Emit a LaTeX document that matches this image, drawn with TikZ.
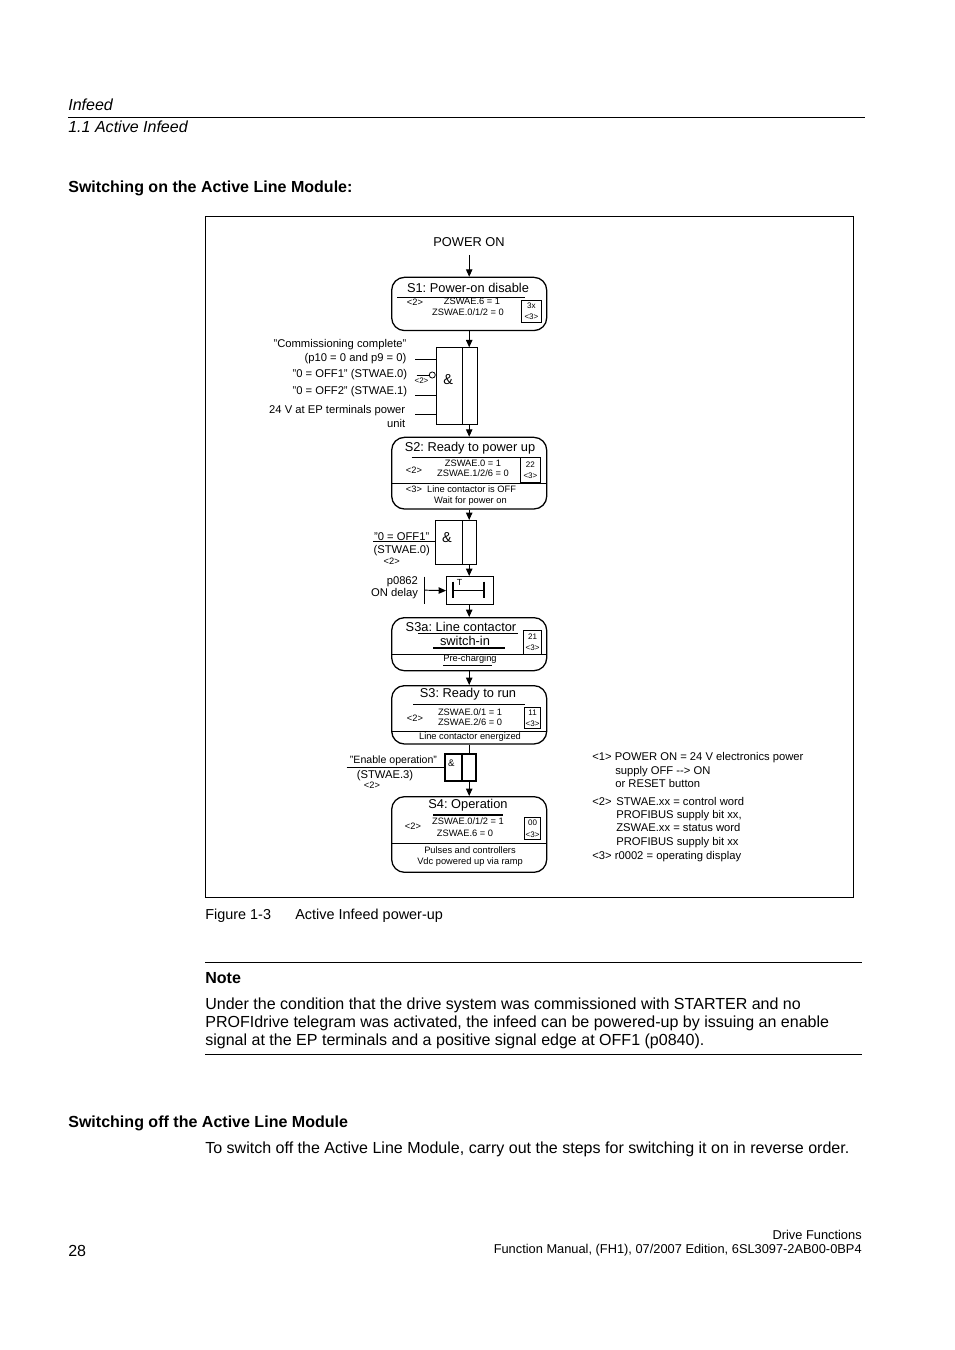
\documentclass[tikz,border=0pt]{standalone}
\usepackage{fontspec}
\setmainfont{Liberation Sans}
\usetikzlibrary{arrows.meta, positioning, calc}
\frenchspacing

\newcommand{\fsz}[2]{\fontsize{#1}{#2}\selectfont}

\begin{document}
\begin{tikzpicture}[x=0.6237pt, y=-0.6237pt, >={Triangle[length=4.6pt, width=4pt]}]

        % --- Styles ---
        \tikzstyle{state} = [rectangle, rounded corners=8pt, draw=black, line width=0.8pt, minimum width=96.7pt, inner sep=0pt, anchor=north]
        \tikzstyle{gate} = [rectangle, draw=black, line width=0.6pt, inner sep=0pt, anchor=north west]
        \tikzstyle{code} = [rectangle, draw=black, line width=0.5pt, inner sep=0pt, anchor=north west, align=center, font=\fsz{5}{7}]
        \tikzstyle{title} = [inner sep=0pt, font=\fsz{8}{9}]
        \tikzstyle{small} = [inner sep=0pt, font=\fsz{5.8}{7}]
        \tikzstyle{lbl} = [inner sep=0pt, yshift=-0.6pt, font=\fsz{7}{8}]
        \tikzstyle{legend} = [inner sep=0pt, anchor=base west, font=\fsz{7}{8}]
        \tikzstyle{body} = [inner sep=0pt, anchor=west, yshift=-1pt, font=\fsz{10}{12}]
        \tikzstyle{heading} = [inner sep=0pt, anchor=west, yshift=-1.2pt, font=\fsz{10}{12}\bfseries]
        \tikzstyle{arrow} = [line width=0.6pt, ->]

        \fill[white] (0,0) rectangle (954,1350);
        \useasboundingbox (0,0) rectangle (954,1350);

        % --- Page head ---
        \node (head) [body, yshift=0.5pt, font=\fsz{10}{12}\itshape] at (68,104) {Infeed};
        \draw[line width=0.5pt] (68,117.2) -- (865,117.2);
        \node (sect) [body, yshift=0.5pt, font=\fsz{10}{12}\itshape] at (68,126) {1.1 Active Infeed};
        \node (hdon) [heading] at (68,186) {Switching on the Active Line Module:};

        % figure frame
        \draw[line width=0.6pt] (205,216.5) rectangle (853.5,897.5);

        % --- S1 ---
        \node (pwr) [title] at (469,242) {POWER ON};
        \coordinate (pin) at (469.2,255);
        \node (s1) [state, minimum height=33.2pt] at (469.2,276.7) {};
        \draw[arrow] (pin) -- (s1.north);
        \node (s1t) [title] at (468,288) {S1: Power-on disable};
        \draw[line width=0.5pt] (397,297) -- (525,297);
        \node (s1a) [small] at (415,302) {<2>};
        \node (s1b) [small] at (472,301.5) {ZSWAE.6 = 1};
        \node (s1c) [small] at (468,312) {ZSWAE.0/1/2 = 0};
        \node (s1r) [code, minimum width=12.5pt, minimum height=13.7pt] at (521,300) {3x\\<3>};

        % --- Gate 1 ---
        \node (and1) [gate, minimum width=25.6pt, minimum height=48pt] at (435.7,347.3) {};
        \draw ($(and1.north west)+(26.6,0)$) -- ($(and1.south west)+(26.6,0)$);
        \node (amp1) [inner sep=0pt, font=\fsz{9}{10}] at (448.3,380) {\&};
        \draw[arrow] (s1.south) -- (s1.south |- and1.north);

        \coordinate (in1) at (415,359);
        \coordinate (in2) at (416.7,375);
        \coordinate (in3) at (415,395);
        \coordinate (in4) at (415,414);
        \node (neg1) [circle, draw, line width=0.5pt, inner sep=0pt, minimum size=3.8pt, anchor=east] at (and1.west |- in2) {};
        \draw (in1) -- (in1 -| and1.west);
        \draw (in2) -- (neg1.west);
        \draw (in3) -- (in3 -| and1.west);
        \draw (in4) -- (in4 -| and1.west);
        \node (neg1l) [inner sep=0pt, font=\fsz{5}{6}] at (421.5,381) {<2>};

        \node (c1) [lbl, anchor=east] at (406.7,344) {"Commissioning complete"};
        \node (c2) [lbl, anchor=east] at (406.7,358) {(p10 = 0 and p9 = 0)};
        \node (c3) [lbl, anchor=east] at (407.5,373.5) {"0 = OFF1" (STWAE.0)};
        \node (c4) [lbl, anchor=east] at (407.5,390.5) {"0 = OFF2" (STWAE.1)};
        \node (c5) [lbl, anchor=east] at (405.5,409.5) {24 V at EP terminals power};
        \node (c6) [lbl, anchor=east] at (405.5,422.5) {unit};

        % --- S2 ---
        \node (s2) [state, minimum height=44.7pt] at (469.2,436.7) {};
        \draw[arrow] (s2.north |- and1.south) -- (s2.north);
        \node (s2t) [title] at (470,448) {S2: Ready to power up};
        \draw[line width=0.5pt] (411.7,457.3) -- (520,457.3);
        \node (s2a) [small] at (414,470) {<2>};
        \node (s2b) [small] at (473,463.3) {ZSWAE.0 = 1};
        \node (s2c) [small] at (473,473.3) {ZSWAE.1/2/6 = 0};
        \node (s2r) [code, minimum width=12.5pt, minimum height=15.4pt] at (520,457.3) {22\\<3>};
        \draw[line width=0.6pt] (391.7,483.3) -- (546.7,483.3);
        \node (s2d) [small] at (461,489.5) {<3>\ \ Line contactor is OFF};
        \node (s2e) [small] at (470.5,501) {Wait for power on};

        % --- Gate 2 ---
        \node (and2) [gate, minimum width=25.4pt, minimum height=27.4pt] at (435,520) {};
        \draw ($(and2.north west)+(27.3,0)$) -- ($(and2.south west)+(27.3,0)$);
        \node (amp2) [inner sep=0pt, font=\fsz{9}{10}] at (447,538) {\&};
        \draw[arrow] (s2.south) -- (s2.south |- and2.north);
        \coordinate (in5) at (373,541.7);
        \draw (in5) -- (in5 -| and2.west);
        \node (off1) [inner sep=0pt, anchor=south, font=\fsz{7}{8}] at (401.7,541) {"0 = OFF1"};
        \node (off1b) [lbl] at (401.7,549.5) {(STWAE.0)};
        \node (off1c) [small] at (391.7,561.5) {<2>};

        % --- ON delay ---
        \node (tdel) [gate, minimum width=29.1pt, minimum height=17.7pt] at (446,576) {};
        \draw[arrow] (s2.south |- and2.south) -- (s2.south |- tdel.north);
        \draw[line width=1.2pt] (453.3,581.7) -- (453.3,598.3);
        \draw[line width=1.2pt] (484.3,581.7) -- (484.3,598.3);
        \draw (453.3,590) -- (484.3,590);
        \node (tT) [inner sep=0pt, font=\fsz{5.5}{6}] at (459.5,582.5) {T};
        \coordinate (dly) at (424.3,590.15);
        \draw (424.3,576.7) -- (424.3,604.3);
        \draw[arrow] (dly) -- (tdel.west);
        \node (p862) [lbl, anchor=east] at (418.3,580.5) {p0862};
        \node (p862b) [lbl, anchor=east] at (418.3,592.5) {ON delay};

        % --- S3a ---
        \node (s3a) [state, minimum height=33.1pt] at (469.2,617) {};
        \draw[arrow] (s2.south |- tdel.south) -- (s3a.north);
        \node (s3at) [title] at (461,626.5) {S3a: Line contactor};
        \draw[line width=0.5pt] (418.3,633.3) -- (518.3,633.3);
        \node (s3au) [title] at (465,641.3) {switch-in};
        \draw[line width=1.1pt] (433.3,648.3) -- (505,648.3);
        \node (s3ar) [code, minimum width=11pt, minimum height=15.2pt] at (523.3,629.5) {21\\<3>};
        \draw[line width=0.6pt] (391.7,654) -- (546.7,654);
        \node (s3ad) [small] at (470,659.5) {Pre-charging};
        \draw[line width=0.5pt] (443.3,665) -- (491.7,665);

        % --- S3 ---
        \node (s3) [state, minimum height=36.4pt] at (469.2,685) {};
        \draw[arrow] (s3a.south) -- (s3.north);
        \node (s3t) [title] at (468,694.5) {S3: Ready to run};
        \draw[line width=0.5pt] (413.3,704) -- (525,704);
        \node (s3a1) [small] at (415,718) {<2>};
        \node (s3b) [small] at (470,712.5) {ZSWAE.0/1 = 1};
        \node (s3c) [small] at (470,722.5) {ZSWAE.2/6 = 0};
        \node (s3r) [code, minimum width=9.8pt, minimum height=13.5pt] at (524.3,706.7) {11\\<3>};
        \draw[line width=0.6pt] (391.7,731.7) -- (546.7,731.7);
        \node (s3d) [small] at (470,737.5) {Line contactor energized};

        % --- Gate 3 ---
        \node (and3) [gate, line width=1.2pt, minimum width=19.1pt, minimum height=16.6pt] at (444.3,753.3) {};
        \draw[line width=1.2pt] ($(and3.north west)+(17.4,0)$) -- ($(and3.south west)+(17.4,0)$);
        \draw[line width=0.6pt] (s3.south) -- (s3.south |- and3.north);
        \node (amp3) [inner sep=0pt, font=\fsz{6}{7}] at (451.3,763) {\&};
        \coordinate (in6) at (346.7,767.3);
        \draw (in6) -- (in6 -| and3.west);
        \node (en1) [inner sep=0pt, anchor=south, font=\fsz{6.6}{8}] at (393.5,766.3) {"Enable operation"};
        \node (en2) [lbl] at (385,774.5) {(STWAE.3)};
        \node (en3) [small] at (372,785) {<2>};

        % --- S4 ---
        \node (s4) [state, minimum height=47.2pt] at (469.2,796) {};
        \draw[arrow] (s3.south |- and3.south) -- (s4.north);
        \node (s4t) [title] at (468,805.5) {S4: Operation};
        \draw[line width=1.2pt] (433.3,815) -- (503.3,815);
        \node (s4a) [small] at (413,826) {<2>};
        \node (s4b) [small] at (468,821.5) {ZSWAE.0/1/2 = 1};
        \node (s4c) [small] at (465,833) {ZSWAE.6 = 0};
        \node (s4r) [code, minimum width=9.8pt, minimum height=13.7pt] at (524.3,817.3) {00\\<3>};
        \draw[line width=0.6pt] (391.7,843.3) -- (546.7,843.3);
        \node (s4d) [small] at (470,850.5) {Pulses and controllers};
        \node (s4e) [small] at (470,862) {Vdc powered up via ramp};

        % --- Legend ---
        \node (lg1) [legend] at (592,760.5) {<1> POWER ON = 24 V electronics power};
        \node (lg2) [legend] at (615,774) {supply OFF -{}-{}> ON};
        \node (lg3) [legend] at (615,787.5) {or RESET button};
        \node (lg4) [legend] at (592,805) {<2>};
        \node (lg5) [legend] at (616,805) {STWAE.xx = control word};
        \node (lg6) [legend] at (616,818) {PROFIBUS supply bit xx,};
        \node (lg7) [legend] at (616,831) {ZSWAE.xx = status word};
        \node (lg8) [legend] at (616,845) {PROFIBUS supply bit xx};
        \node (lg9) [legend] at (592,859.5) {<3> r0002 = operating display};

        % --- Caption and note ---
        \node (fig) [body, font=\fsz{9}{11}] at (205,914) {Figure 1-3};
        \node (figt) [body, font=\fsz{9}{11}] at (295,914) {Active Infeed power-up};
        \draw[line width=0.7pt] (205,962.5) -- (862,962.5);
        \node (note) [heading, yshift=0.5pt] at (205,977) {Note};
        \node (nt1) [body] at (205,1003.5) {Under the condition that the drive system was commissioned with STARTER and no};
        \node (nt2) [body] at (205,1021.5) {PROFIdrive telegram was activated, the infeed can be powered-up by issuing an enable};
        \node (nt3) [body] at (205,1039.5) {signal at the EP terminals and a positive signal edge at OFF1 (p0840).};
        \draw[line width=0.7pt] (205,1054.5) -- (862,1054.5);

        % --- Switching off ---
        \node (hdoff) [heading] at (68,1121) {Switching off the Active Line Module};
        \node (offt) [body] at (205,1147.5) {To switch off the Active Line Module, carry out the steps for switching it on in reverse order.};

        % --- Footer ---
        \node (ft1) [inner sep=0pt, anchor=east, font=\fsz{8}{10}] at (862,1235) {Drive Functions};
        \node (ftn) [body] at (68,1249.5) {28};
        \node (ft2) [inner sep=0pt, anchor=east, font=\fsz{8}{10}] at (862,1250.5) {Function Manual, (FH1), 07/2007 Edition, 6SL3097-2AB00-0BP4};

\end{tikzpicture}
\end{document}
